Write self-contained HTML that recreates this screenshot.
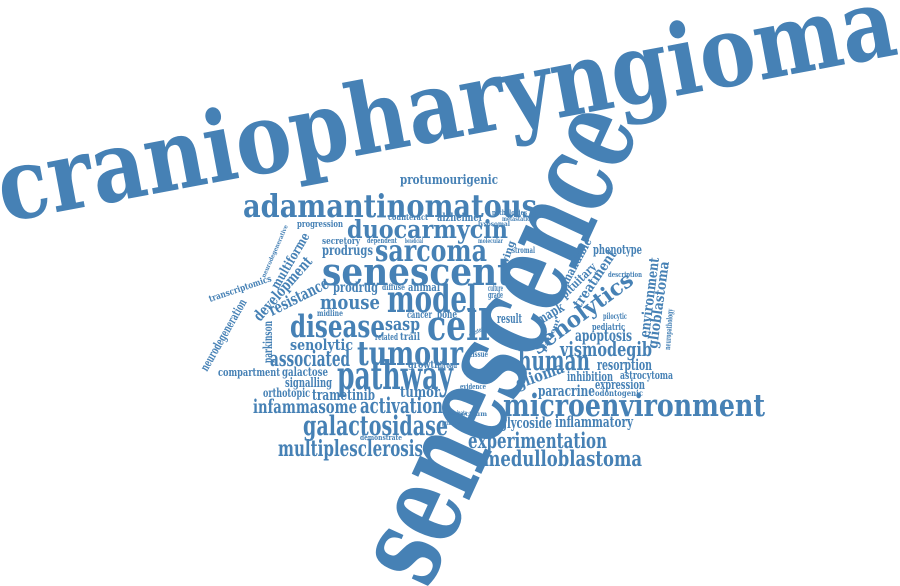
<!DOCTYPE html>
<html><head><meta charset="utf-8"><style>
html,body{margin:0;padding:0;background:#fff;width:900px;height:586px;overflow:hidden}
svg text{font-family:"DejaVu Serif","Liberation Serif",serif;font-weight:bold;fill:#4681b5}
</style></head><body>
<svg id="cloud" width="900" height="586" viewBox="0 0 900 586" xmlns="http://www.w3.org/2000/svg"></svg>
<script>
// word, baseline start x,y, baseline end x,y, font size
const words = ["craniopharyngioma","senescence","protumourigenic","adamantinomatous","counteract","alzheimer","pathologies","metastatic","progression","duocarmycin","secretory","dependent","prodrugs","sarcoma","molecular","senescent","ewing","mouse","prodrug","diffuse","animal","model","disease","sasp","midline","cancer","bone","cell","result","senolytic","related","trail","tumour","associated","growth","broad","resistance","development","multiforme","transcriptomics","neurodegenerative","neurodegeneration","parkinson","phenotype","mandible","pituitary","treatment","description","environment","glioblastoma","neuropathology","senolytics","mapk","pilocytic","pediatric","apoptosis","vismodegib","human","resorption","glioma","inhibition","astrocytoma","expression","paracrine","odontogenic","microenvironment","glycoside","inflammatory","experimentation","medulloblastoma","compartment","galactose","pathway","signalling","orthotopic","trametinib","tumor","infammasome","activation","galactosidase","demonstrate","multiplesclerosis","stromal","culture","grade","tissue","evidence","primary","eliminate","spectrum","cluster","patient","lysosomal","beneficial"];
const x1s = [4,428,400,243,388,437,492,502,297,347,322,367,322,375,478,322,505,320,333,382,408,387,290,385,317,407,437,427,497,290,375,400,357,270,408,440,272,260,278,210,265,207,272,593,568,565,580,608,649,657,670,538,540,603,592,575,560,518,597,518,567,620,595,538,595,503,500,555,468,483,218,282,337,285,263,312,400,253,360,303,360,278,512,488,488,470,460,442,448,453,470,545,478,405];
const y1s = [222,590,184,217,220,221,215,221,227,238,244,243,255,261,243,285,272,309,292,290,291,312,337,330,316,318,318,340,323,350,340,340,365,366,368,368,316,322,290,302,278,372,363,254,285,299,309,277,338,349,350,355,325,319,330,341,356,370,370,389,381,379,389,396,396,416,428,427,448,466,376,376,389,387,397,400,397,413,413,435,440,456,253,291,298,357,389,425,415,416,337,352,226,243];
const x2s = [900,640,498,537,428,483,527,530,343,508,360,397,373,487,503,513,515,380,378,405,440,477,385,420,343,432,457,490,522,353,398,420,463,350,440,457,330,313,310,272,288,247,272,642,592,597,617,642,659,669,673,635,565,627,625,632,652,590,652,565,613,673,645,595,643,765,552,633,607,642,280,328,453,332,310,375,440,357,443,448,402,423,535,503,503,488,486,460,467,487,484,560,510,423];
const y2s = [54,128,184,217,220,221,215,221,227,238,244,243,255,261,243,285,242,309,292,290,291,312,337,330,316,318,318,340,323,350,340,340,365,366,368,368,287,262,236,281,226,302,321,254,241,268,254,277,258,262,309,283,310,319,330,341,356,370,370,372,381,379,389,396,396,416,428,427,448,466,376,376,389,387,397,400,397,413,413,435,440,456,253,291,298,357,389,425,415,416,330,320,226,243];
const sizes = [98,122,13,32,8,11,7,6,9,25,9,7,14,30,6,38,10,20,14,8,11,37,31,18,8,10,11,42,13,15,9,10,34,21,10,9,16,15,13,9,6,12,12,13,12,12,14,7,14,14,8,22,14,8,9,16,20,27,15,16,13,11,13,15,8,31,15,15,21,21,11,12,39,13,12,15,15,19,21,27,7,22,8,8,9,8,7,6,6,6,6,6,6,6];

const svg = document.getElementById('cloud');
const NS = 'http://www.w3.org/2000/svg';
for (let i = 0; i < words.length; i++) {
  const dx = x2s[i] - x1s[i], dy = y2s[i] - y1s[i];
  const len = Math.sqrt(dx*dx + dy*dy);
  const ang = Math.atan2(dy, dx) * 180 / Math.PI;
  const t = document.createElementNS(NS, 'text');
  
  
  t.setAttribute('x', x1s[i]);
  t.setAttribute('y', y1s[i]);
  t.setAttribute('font-size', sizes[i]);
  t.setAttribute('textLength', len.toFixed(1));
  t.setAttribute('lengthAdjust', 'spacingAndGlyphs');
  t.setAttribute('transform', 'rotate(' + ang.toFixed(2) + ' ' + x1s[i] + ' ' + y1s[i] + ')');
  t.textContent = words[i];
  svg.appendChild(t);
}
</script>
</body></html>
